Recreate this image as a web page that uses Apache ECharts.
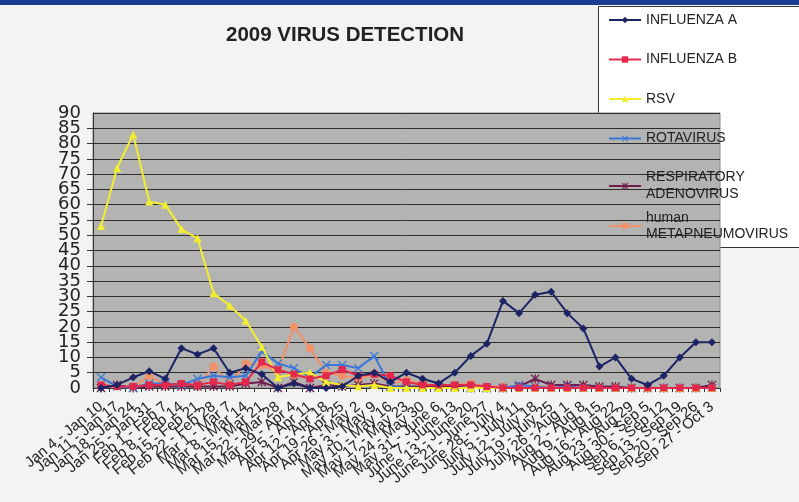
<!DOCTYPE html>
<html>
<head>
<meta charset="utf-8">
<script src="https://cdn.jsdelivr.net/npm/echarts@6/dist/echarts.min.js"></script>
<style>
html,body{margin:0;padding:0;background:#f3f3f1;}
#c{width:799px;height:502px;}
</style>
</head>
<body>
<div id="c"></div>
<script>
const categories = ["Jan 4 - Jan 10","Jan 11 - Jan 17","Jan 18 - Jan 24","Jan 25 - Jan 31","Feb 1 - Feb 7","Feb 8 - Feb 14","Feb 15 - Feb 21","Feb 22 - Feb 28","Mar 1 - Mar 7","Mar 8 - Mar 14","Mar 15 - Mar 21","Mar 22 - Mar 28","Mar 29 - Apr 4","Apr 5 - Apr 11","Apr 12 - Apr 18","Apr 19 - Apr 25","Apr 26 - May 2","May 3 - May 9","May 10 - May 16","May 17 - May 23","May 24 - May 30","May 31 - June 6","June 7 - June 13","June 13 - June 20","June 21 - June 27","June 28 - July 4","July 5 - July 11","July 12 - July 18","July 19 - July 25","July 26 - Aug 1","Aug 2 - Aug 8","Aug 9 - Aug 15","Aug 16 - Aug 22","Aug 23 - Aug 29","Aug 30 - Sep 5","Sep 6 - Sep 12","Sep 13 - Sep 19","Sep 20 - Sep 26","Sep 27 - Oct 3"];

const influenzaA = [0,1,3.5,5.5,3,13,11,13,5,6.5,4.5,0,1.5,0,0,0.5,4,5,2,5,3,1.5,5,10.5,14.5,28.5,24.5,30.5,31.5,24.5,19.5,7,10,3,1,4,10,15,15];
const influenzaB = [1,0.5,0.5,1,1,1.5,1,2,1,2,8.5,6,4.5,3,4,6,4,4.5,4,2,1,1,1,1,0.5,0,0,0,0,0,0,0,0,0,0,0,0,0,0];
const rsv        = [53,72,83,61,60,52,49,31,27,22,13.5,3.5,4.5,5,2,1,0.5,1,0,0,0,0,0,0,0,0,0,0,0,0,0,0,0,0,0,0,0,0,0];
const rotavirus  = [3.5,0.5,0,1.5,1.5,1,3,4,3.5,4,12,8,6.5,3.5,7.5,7.5,6.5,10.5,0.5,0,0,0,0,0,0,0,1,0.5,0,0.5,0,0,0,0,0,0,0,0,0];
const adenovirus = [0,1,0,0.5,0.5,0.5,0.5,0.5,0.5,1.5,2,0,2,0,1,0.5,1,1.5,0.5,0.5,0.5,0.5,0.5,0,0,0,0.5,3,1,1,1,0.5,0.5,0,0,0,0,0,1];
const metapneumo = [0.5,0.5,0.5,4,1,1,0.5,7,1.5,8,7.5,5.5,20,13,5,4,3,4.5,1.5,2.5,1.5,0.5,1,1.5,0.5,0.5,0.5,0.5,0.5,0.5,0.5,0,0,0,0,0,0,0,0.5];

const seriesNames = ["INFLUENZA A","INFLUENZA B","RSV","ROTAVIRUS","RESPIRATORY\nADENOVIRUS","human\nMETAPNEUMOVIRUS"];
const yTicks = {min:0, max:90, interval:5};

const X_PATH = 'path://M0,1 L1,0 L5,4 L9,0 L10,1 L6,5 L10,9 L9,10 L5,6 L1,10 L0,9 L4,5 Z';
const AST_PATH = 'path://M0,1 L1,0 L5,4 L9,0 L10,1 L6,5 L10,9 L9,10 L5,6 L1,10 L0,9 L4,5 Z M4.3,0 L5.7,0 L5.7,10 L4.3,10 Z';

const styles = [
  {color:'#1c2466', symbol:'diamond', size:8},
  {color:'#e3284c', symbol:'rect', size:7},
  {color:'#f2ee2e', symbol:'triangle', size:8},
  {color:'#3a78d8', symbol:X_PATH, size:9},
  {color:'#6e1e4e', symbol:AST_PATH, size:9},
  {color:'#f29068', symbol:'circle', size:8}
];
const dataSets = [influenzaA, influenzaB, rsv, rotavirus, adenovirus, metapneumo];

const chart = echarts.init(document.getElementById('c'), null, {renderer:'canvas'});
const FONT = 'Liberation Sans, Arial, sans-serif';
const yLabelStyle = {fontFamily:'DejaVu Sans, sans-serif', fontSize:18, color:'#222', margin:12};

chart.setOption({
  animation:false,
  backgroundColor:'#f3f3f1',
  title:{text:'2009 VIRUS DETECTION', left:221, top:20,
    textStyle:{fontFamily:FONT, fontSize:20.5, fontWeight:'bold', color:'#222'}},
  graphic:[
    {type:'rect', shape:{x:0,y:0,width:799,height:5}, style:{fill:'#1d3c8f'}, z:10},
    {type:'rect', shape:{x:598.5,y:6.5,width:205,height:241}, style:{fill:'#ffffff', stroke:'#333', lineWidth:1}, z:-1}
  ],
  legend:[
    {data:seriesNames.slice(0,4), orient:'vertical', left:608, top:12, padding:0,
     itemGap:23.5, itemWidth:32, itemHeight:8,
     textStyle:{fontFamily:FONT, fontSize:14, lineHeight:16, color:'#222'}},
    {data:seriesNames.slice(4,5), orient:'vertical', left:608, top:169, padding:0,
     itemWidth:32, itemHeight:8,
     textStyle:{fontFamily:FONT, fontSize:14, lineHeight:17, color:'#222'}},
    {data:seriesNames.slice(5), orient:'vertical', left:608, top:210, padding:0,
     itemWidth:32, itemHeight:8,
     textStyle:{fontFamily:FONT, fontSize:14, lineHeight:16, color:'#222'}}
  ],
  grid:{left:93, right:79, top:113, bottom:114, show:true, backgroundColor:'#b3b3b1', borderColor:'#8a8a8a', borderWidth:1},
  xAxis:{type:'category', data:categories, boundaryGap:true,
    axisLine:{lineStyle:{color:'#333', width:1}},
    axisTick:{show:true, interval:0, length:4, lineStyle:{color:'#333'}},
    axisLabel:{interval:0, rotate:39, margin:17, fontFamily:FONT, fontSize:15, color:'#222'}},
  yAxis:[
    {type:'value', min:yTicks.min, max:yTicks.max, interval:yTicks.interval, position:'left',
     axisLine:{show:true, lineStyle:{color:'#333'}},
     axisTick:{show:true, length:6, lineStyle:{color:'#333'}},
     splitLine:{lineStyle:{color:'#2e2c2a', width:1}},
     axisLabel:Object.assign({showMinLabel:false, showMaxLabel:false}, yLabelStyle)},
    {type:'value', min:yTicks.min, max:yTicks.max, interval:yTicks.max - yTicks.min, position:'left', offset:0,
     axisLine:{show:false}, axisTick:{show:false}, splitLine:{show:false},
     axisLabel:yLabelStyle}
  ],
  series: dataSets.map((d,i)=>({
    name:seriesNames[i], type:'line', data:d, yAxisIndex:0,
    symbol:styles[i].symbol, symbolSize:styles[i].size, showSymbol:true,
    lineStyle:{color:styles[i].color, width:2},
    itemStyle:{color:styles[i].color},
    z:10-i
  }))
});
</script>
</body>
</html>
